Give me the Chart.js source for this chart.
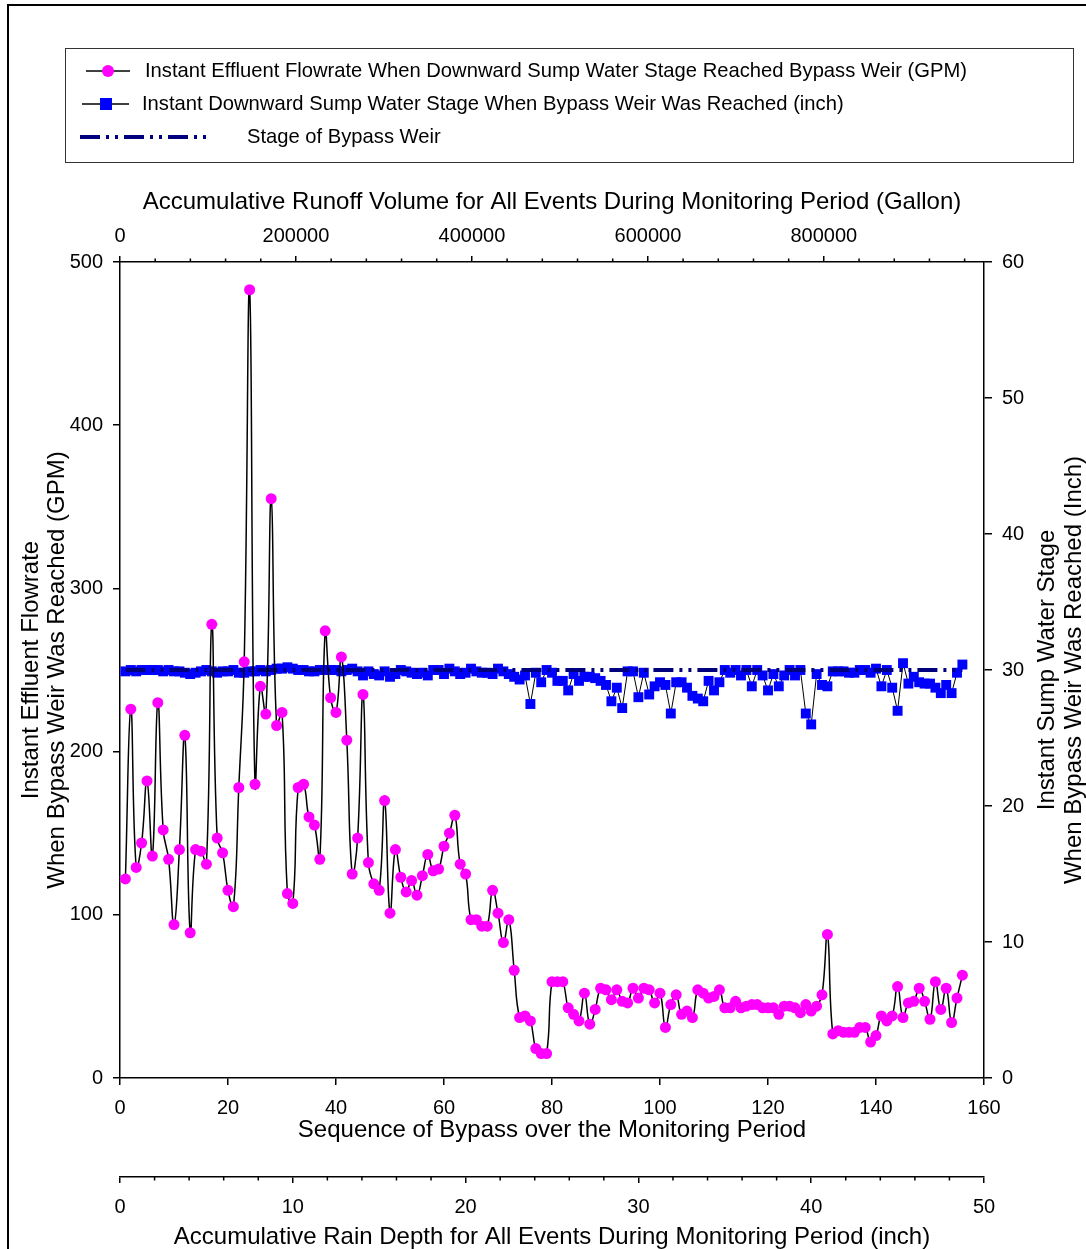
<!DOCTYPE html>
<html>
<head>
<meta charset="utf-8">
<script src="https://cdn.jsdelivr.net/npm/chart.js@4/dist/chart.umd.min.js"></script>
<style>
html,body{margin:0;padding:0;background:#fff;}
canvas{display:block;}
</style>
</head>
<body>
<canvas id="c" width="1086" height="1249"></canvas>
<script>
// effluent flowrate (GPM) at each bypass
var flowGpm=[122,226,129,144,182,136,230,152,134,94, 140,210,89,140,139,131,278,147,138,115,
  105,178,255,483,180,240,223,355,216,224, 113,107,178,180,160,155,134,274,233,224,
  258,207,125,147,235,132,119,115,170,101, 140,123,114,121,112,124,137,127,128,142,
  150,161,131,125,97,97,93,93,115,101, 83,97,66,37,38,35,18,15,15,59,
  59,59,43,39,35,52,33,42,55,54, 48,54,47,46,55,49,55,54,46,52,
  31,45,51,39,41,37,54,52,49,50, 54,43,43,47,43,44,45,45,43,43,
  43,39,44,44,43,40,45,41,44,51, 88,27,29,28,28,28,31,31,22,26,
  38,35,38,56,37,46,47,55,47,36, 59,42,55,34,49,63];
// sump water stage (inch) at each bypass
var sumpStage=[29.9,30.0,29.9,30.0,30.0,30.0,30.0,29.9,30.0,29.9, 29.9,29.8,29.7,29.8,29.9,30.0,29.9,29.8,29.9,29.9,
  30.0,29.8,29.8,29.9,29.9,30.0,29.9,30.0,30.1,30.1, 30.2,30.1,30.0,30.0,29.9,29.9,30.0,30.0,30.0,30.0,
  29.9,30.0,30.1,29.9,29.6,29.9,29.7,29.6,29.9,29.5, 29.7,30.0,29.9,29.8,29.7,29.8,29.6,30.0,30.0,29.7,
  30.1,29.9,29.7,29.8,30.1,29.9,29.8,29.8,29.7,30.1, 29.9,29.7,29.5,29.3,29.6,27.5,29.8,29.1,30.0,29.8,
  29.2,29.2,28.5,29.7,29.2,29.5,29.5,29.4,29.2,28.9, 27.7,28.7,27.2,29.9,29.9,28.0,29.8,28.2,28.8,29.1,
  28.9,26.8,29.1,29.1,28.7,28.1,27.9,27.7,29.2,28.5, 29.1,30.0,29.8,30.0,29.6,30.0,28.8,30.0,29.6,28.5,
  29.7,28.8,29.6,30.0,29.6,30.0,26.8,26.0,29.7,28.9, 28.8,29.9,29.9,29.9,29.8,29.8,30.0,30.0,29.8,30.1,
  28.8,30.0,28.7,27.0,30.5,29.0,29.5,29.1,29.0,29.0, 28.7,28.3,28.9,28.3,29.8,30.4];
var weirStage=30;
var seq=flowGpm.map(function(v,i){return i+1;});

var seqRange=[0,160], gpmRange=[0,500], inchRange=[0,60], runoffRange=[0,982000], rainRange=[0,50];
var runoffTicks=[0,200000,400000,600000,800000];

var labels=[
  'Instant Effluent Flowrate When Downward Sump Water Stage Reached Bypass Weir (GPM)',
  'Instant Downward Sump Water Stage When Bypass Weir Was Reached (inch)',
  'Stage of Bypass Weir'];
var seqTitle='Sequence of Bypass over the Monitoring Period';
var runoffTitle='Accumulative Runoff Volume for All Events During Monitoring Period (Gallon)';
var rainTitle='Accumulative Rain Depth for All Events During Monitoring Period (inch)';
var leftTitle=['Instant Effluent Flowrate','When Bypass Weir Was Reached (GPM)'];
var rightTitle=['Instant Sump Water Stage','When Bypass Weir Was Reached (Inch)'];

var FONT='"Liberation Sans", Arial, sans-serif';
Chart.defaults.font.family=FONT;
Chart.defaults.color='#000';

function pts(ys){return ys.map(function(v,i){return {x:seq[i],y:v};});}
var WEIR_DASH=[20,6,3,6,3,6];

var axisBase=function(o){
  o.type='linear';
  o.grid=Object.assign({drawOnChartArea:false,color:'#000',lineWidth:1.5},o.grid||{});
  o.border={color:'#000',width:1.5};
  o.ticks=Object.assign({font:{size:20},color:'#000',autoSkip:false,maxRotation:0,
    callback:function(v){return String(v);}},o.ticks||{});
  return o;
};

var decor={
  id:'decor',
  beforeDraw:function(ch){
    var c=ch.ctx;c.save();c.fillStyle='#fff';c.fillRect(0,0,ch.width,ch.height);c.restore();
  },
  afterDraw:function(ch){
    var c=ch.ctx,ds=ch.data.datasets,s,v,px;
    c.save();
    c.strokeStyle='#000';c.lineWidth=2;c.strokeRect(8,5,1200,1400);
    // minor ticks
    c.lineWidth=1.5;c.beginPath();
    s=ch.scales.x2;
    for(v=40000;v<s.max;v+=40000){if(v%200000===0)continue;px=s.getPixelForValue(v);c.moveTo(px,s.bottom);c.lineTo(px,s.bottom-3.5);}
    s=ch.scales.xr;
    for(v=2;v<s.max;v+=2){if(v%10===0)continue;px=s.getPixelForValue(v);c.moveTo(px,s.top);c.lineTo(px,s.top+3.5);}
    c.stroke();
    // right title
    c.fillStyle='#000';c.font='24px '+FONT;c.textAlign='center';c.textBaseline='middle';
    var cy=(ch.chartArea.top+ch.chartArea.bottom)/2;
    rightTitle.forEach(function(t,i){c.save();c.translate(1047+i*27,cy);c.rotate(-Math.PI/2);c.fillText(t,0,0);c.restore();});
    // legend
    c.strokeStyle='#333';c.lineWidth=1;c.strokeRect(65.5,48.5,1008,114);
    c.font='20.2px '+FONT;c.textAlign='left';
    c.strokeStyle='#000';c.lineWidth=1.5;c.beginPath();c.moveTo(86,71);c.lineTo(130,71);c.stroke();
    c.fillStyle=ds[0].pointBackgroundColor;c.beginPath();c.arc(108,71,6,0,Math.PI*2);c.fill();
    c.fillStyle='#000';c.fillText(labels[0],145,71);
    c.beginPath();c.moveTo(82,104);c.lineTo(129,104);c.stroke();
    c.fillStyle=ds[1].pointBackgroundColor;c.fillRect(100,98,12,12);
    c.fillStyle='#000';c.fillText(labels[1],142,104);
    c.strokeStyle=ds[2].borderColor;c.lineWidth=4;c.setLineDash(WEIR_DASH);
    c.beginPath();c.moveTo(80,137);c.lineTo(210,137);c.stroke();c.setLineDash([]);
    c.fillText(labels[2],247,137);
    c.restore();
  }
};

new Chart(document.getElementById('c').getContext('2d'),{
  type:'line',
  data:{datasets:[
    {label:labels[0],data:pts(flowGpm),yAxisID:'y',xAxisID:'x',order:1,
     borderColor:'#000',borderWidth:1.5,tension:0.45,
     pointRadius:5.5,pointBackgroundColor:'#FF00FF',pointBorderColor:'#FF00FF',pointBorderWidth:0},
    {label:labels[1],data:pts(sumpStage),yAxisID:'y1',xAxisID:'x',order:3,
     borderColor:'#000',borderWidth:1,tension:0,
     pointStyle:'rect',pointRadius:7,pointBackgroundColor:'#0000FF',pointBorderColor:'#0000FF',pointBorderWidth:0},
    {label:labels[2],data:[{x:seq[0],y:weirStage},{x:seq[seq.length-1],y:weirStage}],yAxisID:'y1',xAxisID:'x',order:2,
     borderColor:'#00007F',borderWidth:4,borderDash:WEIR_DASH,pointRadius:0,tension:0}
  ]},
  options:{
    responsive:false,animation:false,devicePixelRatio:1,
    layout:{padding:{top:170,left:0,right:0,bottom:0}},
    plugins:{legend:{display:false},tooltip:{enabled:false}},
    scales:{
      x:axisBase({position:'bottom',weight:0,min:seqRange[0],max:seqRange[1],
        ticks:{stepSize:20,padding:11},grid:{tickLength:7},
        title:{display:true,text:seqTitle,color:'#000',font:{size:24},padding:{top:0,bottom:32}},
        afterFit:function(s){s.height=99;}}),
      xr:axisBase({position:'bottom',weight:1,min:rainRange[0],max:rainRange[1],
        ticks:{stepSize:10,padding:12},grid:{tickLength:6},
        title:{display:true,text:rainTitle,color:'#000',font:{size:24,lineHeight:1},padding:0},
        afterFit:function(s){s.height=72;}}),
      x2:axisBase({position:'top',min:runoffRange[0],max:runoffRange[1],
        ticks:{padding:8},grid:{tickLength:6},
        afterBuildTicks:function(s){s.ticks=runoffTicks.map(function(v){return {value:v};});},
        title:{display:true,text:runoffTitle,color:'#000',font:{size:24},padding:{top:18,bottom:0}},
        afterFit:function(s){s.height=92;}}),
      y:axisBase({position:'left',min:gpmRange[0],max:gpmRange[1],
        ticks:{stepSize:100,padding:10},grid:{tickLength:7},
        title:{display:true,text:leftTitle,color:'#000',font:{size:24,lineHeight:1.1},padding:{top:18,bottom:0}},
        afterFit:function(s){s.width=120;}}),
      y1:axisBase({position:'right',min:inchRange[0],max:inchRange[1],
        ticks:{stepSize:10,padding:10},grid:{tickLength:8},
        afterFit:function(s){s.width=102;}})
    }
  },
  plugins:[decor]
});
</script>
</body>
</html>
